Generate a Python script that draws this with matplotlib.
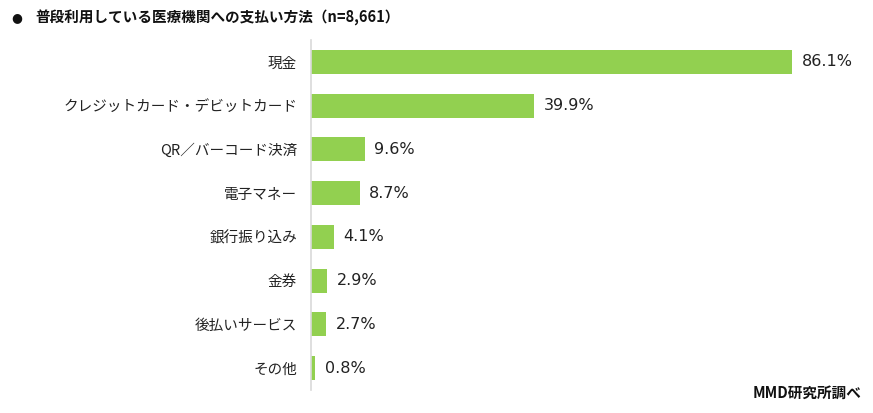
import matplotlib
matplotlib.use("Agg")
import matplotlib.pyplot as plt

plt.rcParams['font.family'] = ['Noto Sans CJK JP', 'DejaVu Sans']

categories = ["現金", "クレジットカード・デビットカード", "QR／バーコード決済", "電子マネー",
              "銀行振り込み", "金券", "後払いサービス", "その他"]
values = [86.1, 39.9, 9.6, 8.7, 4.1, 2.9, 2.7, 0.8]
title = "普段利用している医療機関への支払い方法（n=8,661）"
source = "MMD研究所調べ"

W, H = 873, 413
fig = plt.figure(figsize=(W / 100, H / 100), dpi=100)
ax = fig.add_axes([311 / W, (H - 390) / H, 559 / W, 350 / H])

ypos = list(range(len(categories)))
ax.barh(ypos, values, height=0.55, color="#92D050", zorder=2)
ax.set_xlim(0, 100)
ax.set_ylim(len(categories) - 0.5, -0.5)

for s in ["top", "right", "bottom"]:
    ax.spines[s].set_visible(False)
ax.spines["left"].set_color("#D9D9D9")
ax.spines["left"].set_linewidth(1.2)
ax.set_xticks([])
ax.set_yticks(ypos)
ax.set_yticklabels(categories, fontsize=10.5, color="#222222")
ax.tick_params(axis="y", length=0, pad=10)

for y, v in zip(ypos, values):
    ax.annotate(f"{v}%", xy=(v, y), xytext=(7, 0), textcoords="offset points",
                va="center", ha="left", fontsize=11.5, color="#222222",
                family=['DejaVu Sans'])

fig.text(11 / W, 1 - 18 / H, "●", fontsize=9, va="center", ha="left",
         color="#111111", family=['DejaVu Sans'])
fig.text(35 / W, 1 - 18 / H, title, fontsize=10.5, fontweight="bold",
         va="center", ha="left", color="#111111")
fig.text(862 / W, 1 - 393 / H, source, fontsize=10.5, fontweight="bold",
         va="center", ha="right", color="#111111")

fig.savefig("out.png", dpi=100)
